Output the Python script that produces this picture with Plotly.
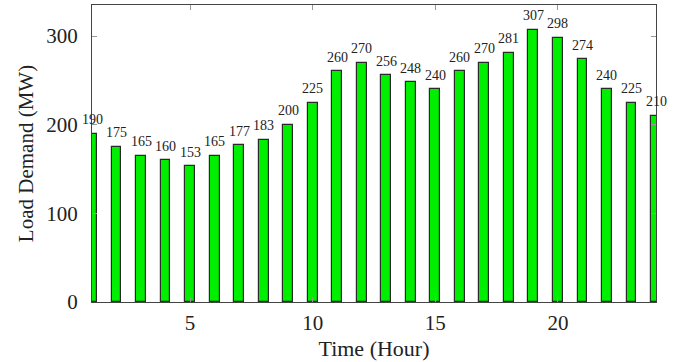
import plotly.graph_objects as go

hours = list(range(1, 25))
load_mw = [190, 175, 165, 160, 153, 165, 177, 183, 200, 225, 260, 270,
           256, 248, 240, 260, 270, 281, 307, 298, 274, 240, 225, 210]
x_ticks = [5, 10, 15, 20]
y_ticks = [0, 100, 200, 300]

FONT = "Liberation Serif"

fig = go.Figure()
fig.add_trace(go.Bar(
    x=hours, y=load_mw, width=0.4,
    marker=dict(color="#00ee00", line=dict(color="#2a2a2a", width=1.2)),
    showlegend=False,
))
for h, v in zip(hours, load_mw):
    fig.add_annotation(x=h, y=v, text=str(v), showarrow=False, yshift=14,
                       font=dict(family=FONT, size=14, color="#222"))

axis_common = dict(showline=True, linecolor="#444", linewidth=1.2, mirror="ticks",
                   ticks="inside", ticklen=5, tickcolor="#999", showgrid=False,
                   zeroline=False, tickfont=dict(family=FONT, size=21, color="#222"))
fig.update_xaxes(range=[1, 24], tickvals=x_ticks, ticklabelstandoff=2,
                 title=dict(text="Time (Hour)", font=dict(family=FONT, size=22, color="#222"), standoff=6),
                 **axis_common)
fig.update_yaxes(range=[0, 335], tickvals=y_ticks, ticklabelstandoff=9,
                 title=dict(text="Load Demand (MW)", font=dict(family=FONT, size=21, color="#222"), standoff=6),
                 **axis_common)
fig.update_layout(width=674, height=362, margin=dict(l=92, r=18, t=5, b=60),
                  plot_bgcolor="white", paper_bgcolor="white", bargap=0)
fig.write_html("out.html")
